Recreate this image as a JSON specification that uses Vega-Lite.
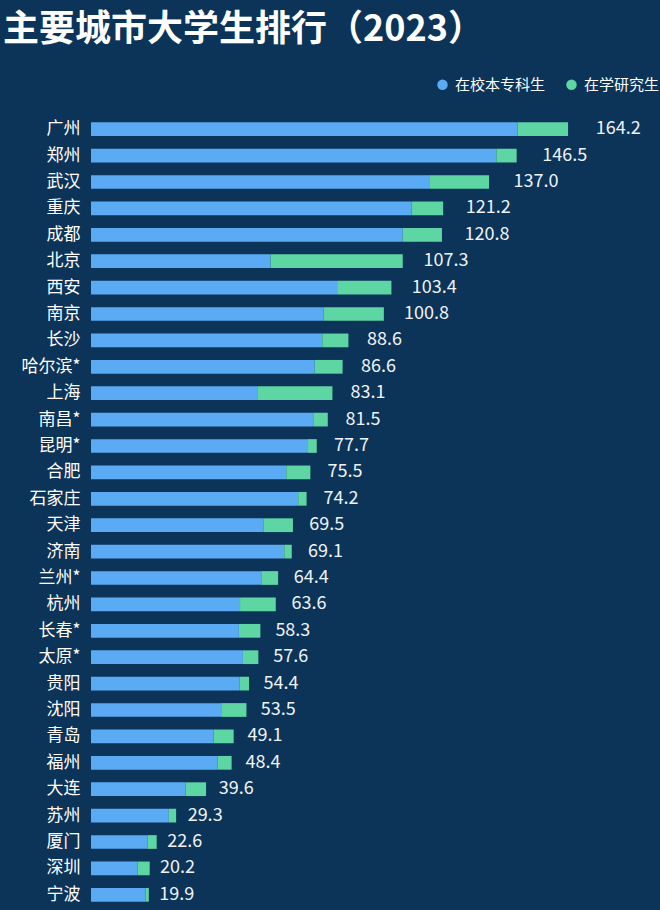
{
  "$schema": "https://vega.github.io/schema/vega-lite/v6.json",
  "autosize": "none",
  "width": 550,
  "height": 792,
  "padding": {"left": 91, "top": 116, "right": 19, "bottom": 2},
  "background": "#0c3358",
  "config": {
    "view": {"stroke": null},
    "font": "Noto Sans CJK SC"
  },
  "title": {
    "text": "主要城市大学生排行（2023）",
    "anchor": "start",
    "frame": "group",
    "fontSize": 36,
    "fontWeight": "bold",
    "color": "#ffffff",
    "font": "Noto Sans CJK SC",
    "dx": -88,
    "dy": -20,
    "offset": 8
  },
  "data": {
    "values": [
      {"city": "广州", "在校本专科生": 146.8, "在学研究生": 17.4, "total": 164.2},
      {"city": "郑州", "在校本专科生": 139.5, "在学研究生": 7.0, "total": 146.5},
      {"city": "武汉", "在校本专科生": 116.4, "在学研究生": 20.6, "total": 137.0},
      {"city": "重庆", "在校本专科生": 110.3, "在学研究生": 10.9, "total": 121.2},
      {"city": "成都", "在校本专科生": 107.3, "在学研究生": 13.5, "total": 120.8},
      {"city": "北京", "在校本专科生": 61.8, "在学研究生": 45.5, "total": 107.3},
      {"city": "西安", "在校本专科生": 84.7, "在学研究生": 18.7, "total": 103.4},
      {"city": "南京", "在校本专科生": 80.1, "在学研究生": 20.7, "total": 100.8},
      {"city": "长沙", "在校本专科生": 79.6, "在学研究生": 9.0, "total": 88.6},
      {"city": "哈尔滨*", "在校本专科生": 77.0, "在学研究生": 9.6, "total": 86.6},
      {"city": "上海", "在校本专科生": 57.2, "在学研究生": 25.9, "total": 83.1},
      {"city": "南昌*", "在校本专科生": 76.5, "在学研究生": 5.0, "total": 81.5},
      {"city": "昆明*", "在校本专科生": 74.7, "在学研究生": 3.0, "total": 77.7},
      {"city": "合肥", "在校本专科生": 67.2, "在学研究生": 8.3, "total": 75.5},
      {"city": "石家庄", "在校本专科生": 71.3, "在学研究生": 2.9, "total": 74.2},
      {"city": "天津", "在校本专科生": 59.5, "在学研究生": 10.0, "total": 69.5},
      {"city": "济南", "在校本专科生": 66.5, "在学研究生": 2.6, "total": 69.1},
      {"city": "兰州*", "在校本专科生": 58.6, "在学研究生": 5.8, "total": 64.4},
      {"city": "杭州", "在校本专科生": 51.3, "在学研究生": 12.3, "total": 63.6},
      {"city": "长春*", "在校本专科生": 50.9, "在学研究生": 7.4, "total": 58.3},
      {"city": "太原*", "在校本专科生": 52.3, "在学研究生": 5.3, "total": 57.6},
      {"city": "贵阳", "在校本专科生": 51.2, "在学研究生": 3.2, "total": 54.4},
      {"city": "沈阳", "在校本专科生": 44.8, "在学研究生": 8.7, "total": 53.5},
      {"city": "青岛", "在校本专科生": 42.2, "在学研究生": 6.9, "total": 49.1},
      {"city": "福州", "在校本专科生": 43.5, "在学研究生": 4.9, "total": 48.4},
      {"city": "大连", "在校本专科生": 32.6, "在学研究生": 7.0, "total": 39.6},
      {"city": "苏州", "在校本专科生": 26.8, "在学研究生": 2.5, "total": 29.3},
      {"city": "厦门", "在校本专科生": 19.4, "在学研究生": 3.2, "total": 22.6},
      {"city": "深圳", "在校本专科生": 16.1, "在学研究生": 4.1, "total": 20.2},
      {"city": "宁波", "在校本专科生": 18.8, "在学研究生": 1.1, "total": 19.9}
    ]
  },
  "layer": [
    {
      "transform": [
        {"fold": ["在校本专科生", "在学研究生"], "as": ["type", "value"]}
      ],
      "mark": {"type": "bar"},
      "encoding": {
        "y": {
          "field": "city",
          "type": "nominal",
          "sort": {"field": "total", "op": "max", "order": "descending"},
          "scale": {"paddingInner": 0.48, "paddingOuter": 0.24},
          "axis": {
            "title": null,
            "domain": false,
            "ticks": false,
            "grid": false,
            "labelFontSize": 17,
            "labelColor": "#ffffff",
            "labelPadding": 11,
            "labelFont": "Noto Sans CJK SC"
          }
        },
        "x": {
          "field": "value",
          "type": "quantitative",
          "stack": "zero",
          "scale": {"domain": [0, 189.3], "nice": false},
          "axis": null
        },
        "color": {
          "field": "type",
          "type": "nominal",
          "scale": {
            "domain": ["在校本专科生", "在学研究生"],
            "range": ["#5aabf3", "#5ed6a3"]
          },
          "legend": {
            "title": null,
            "orient": "none",
            "direction": "horizontal",
            "legendX": 344,
            "legendY": -39,
            "padding": 0,
            "symbolType": "circle",
            "symbolSize": 110,
            "symbolStrokeWidth": 0,
            "labelFontSize": 15,
            "labelColor": "#ffffff",
            "labelFont": "Noto Sans CJK SC",
            "labelOffset": 5,
            "columnPadding": 18
          }
        },
        "order": {"field": "type", "sort": "descending"}
      }
    },
    {
      "mark": {
        "type": "text",
        "align": "left",
        "baseline": "middle",
        "dx": 8,
        "fontSize": 18,
        "color": "#eef3f8",
        "font": "Noto Sans CJK SC"
      },
      "encoding": {
        "y": {
          "field": "city",
          "type": "nominal",
          "sort": {"field": "total", "op": "max", "order": "descending"}
        },
        "x": {
          "field": "total",
          "type": "quantitative",
          "scale": {"domain": [0, 181.8], "nice": false},
          "axis": null
        },
        "text": {"field": "total", "type": "quantitative", "format": ".1f"}
      }
    }
  ],
  "resolve": {"scale": {"x": "independent"}}
}
